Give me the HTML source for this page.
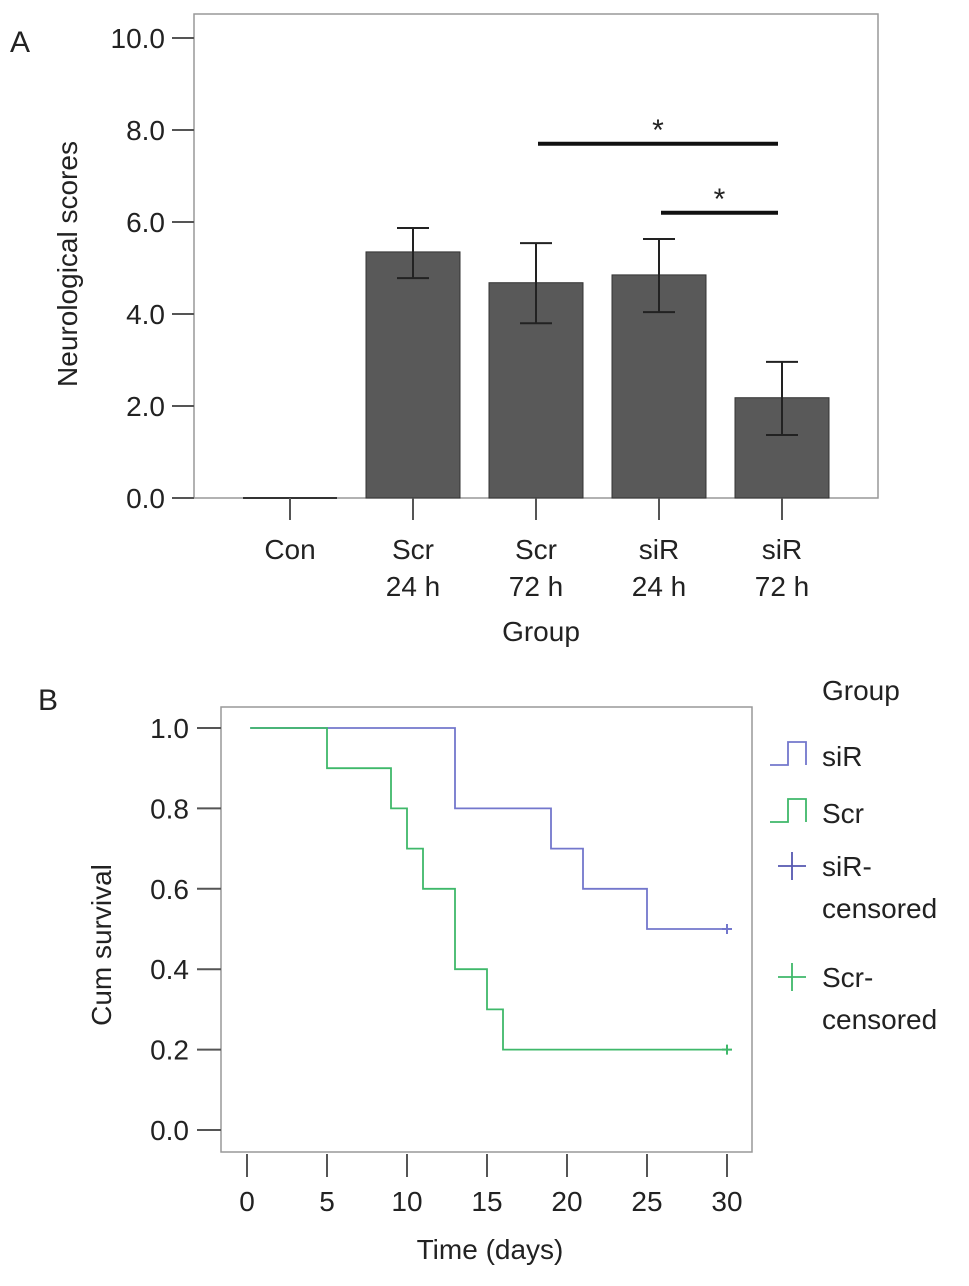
<!DOCTYPE html>
<html><head><meta charset="utf-8"><style>
body{margin:0;background:#fff}
svg text{font-family:"Liberation Sans",sans-serif;fill:#222}
</style></head><body>
<svg width="969" height="1281" viewBox="0 0 969 1281">
<g id="pa"></g>
<g id="pb"></g>
</svg>
<script>
const barCats=[["Con"],["Scr","24 h"],["Scr","72 h"],["siR","24 h"],["siR","72 h"]];
const barVals=[0,5.35,4.68,4.85,2.18];
const errHi=[0,5.87,5.54,5.63,2.96];
const errLo=[0,4.78,3.80,4.04,1.37];
const yTicksA=[0,2,4,6,8,10];
const sigPairs=[[2,4],[3,4]];
const sigLevels=[7.7,6.2];

const tVals=[0,5,10,15,20,25,30];
const survTicks=[0,0.2,0.4,0.6,0.8,1.0];
const siRTimes=[0.2,13,19,21,25,30];
const siRSurv=[1.0,0.8,0.7,0.6,0.5,0.5];
const scrTimes=[0.2,5,9,10,11,13,15,16,30];
const scrSurv=[1.0,0.9,0.8,0.7,0.6,0.4,0.3,0.2,0.2];

const NS="http://www.w3.org/2000/svg";
function mk(p,t,a,txt){const e=document.createElementNS(NS,t);for(const k in a)e.setAttribute(k,a[k]);if(txt!==undefined)e.textContent=txt;p.appendChild(e);return e;}
const A=document.getElementById('pa'),B=document.getElementById('pb');
const FS=28;
// Panel A
const yA=v=>498-v*46, xA=i=>290+i*123;
let e=mk(A,'text',{x:10,y:52,'font-size':30},'A');


e=mk(A,'rect',{x:194,y:14,width:684,height:484,fill:'none',stroke:'#999','stroke-width':1.5});


yTicksA.forEach(v=>{
 e=mk(A,'line',{x1:172,x2:194,y1:yA(v),y2:yA(v),stroke:'#555','stroke-width':2});
 
 
 e=mk(A,'text',{x:165,y:yA(v)+10,'font-size':FS,'text-anchor':'end'},v.toFixed(1));
 
 
});
e=mk(A,'text',{x:0,y:0,'font-size':FS,'text-anchor':'middle',transform:'translate(77,264) rotate(-90)'},'Neurological scores');


barVals.forEach((v,i)=>{
 const cx=xA(i);
 if(v>0){e=mk(A,'rect',{x:cx-47,y:yA(v),width:94,height:yA(0)-yA(v),fill:'#595959',stroke:'#333','stroke-width':1});}
 else{e=mk(A,'line',{x1:cx-47,x2:cx+47,y1:yA(0),y2:yA(0),stroke:'#333','stroke-width':2});}
 
 
 if(errHi[i]>errLo[i]){
  e=mk(A,'path',{d:`M${cx-16},${yA(errHi[i])}H${cx+16}M${cx},${yA(errHi[i])}V${yA(errLo[i])}M${cx-16},${yA(errLo[i])}H${cx+16}`,stroke:'#222','stroke-width':2,fill:'none'});
  
  
 }
 e=mk(A,'line',{x1:cx,x2:cx,y1:498,y2:520,stroke:'#555','stroke-width':2});
 
 
 barCats[i].forEach((s,j)=>{
  e=mk(A,'text',{x:cx,y:559+j*37,'font-size':FS,'text-anchor':'middle'},s);
  
  
 });
});
e=mk(A,'text',{x:541,y:641,'font-size':FS,'text-anchor':'middle'},'Group');


sigPairs.forEach((p,k)=>{
 const x1=xA(p[0])+2,x2=xA(p[1])-4,y=yA(sigLevels[k]);
 e=mk(A,'line',{x1:x1,x2:x2,y1:y,y2:y,stroke:'#111','stroke-width':4});
 
 
 e=mk(A,'text',{x:(x1+x2)/2,y:y-4,'font-size':30,'text-anchor':'middle','font-family':'Liberation Serif'},'*');
 
 
});
// Panel B
const xB=t=>247+t*16, yB=s=>1130-s*402;
e=mk(B,'text',{x:38,y:710,'font-size':30},'B');


e=mk(B,'rect',{x:221,y:707,width:531,height:445,fill:'none',stroke:'#999','stroke-width':1.5});


survTicks.forEach(v=>{
 e=mk(B,'line',{x1:197,x2:221,y1:yB(v),y2:yB(v),stroke:'#555','stroke-width':2});
 
 
 e=mk(B,'text',{x:189,y:yB(v)+10,'font-size':FS,'text-anchor':'end'},v.toFixed(1));
 
 
});
tVals.forEach(t=>{
 e=mk(B,'line',{x1:xB(t),x2:xB(t),y1:1154,y2:1177,stroke:'#555','stroke-width':2});
 
 
 e=mk(B,'text',{x:xB(t),y:1211,'font-size':FS,'text-anchor':'middle'},String(t));
 
 
});
e=mk(B,'text',{x:0,y:0,'font-size':FS,'text-anchor':'middle',transform:'translate(111,945) rotate(-90)'},'Cum survival');


e=mk(B,'text',{x:490,y:1259,'font-size':FS,'text-anchor':'middle'},'Time (days)');


function step(ts,ss,col,name){
 let d=`M${xB(ts[0])},${yB(ss[0])}`;
 for(let i=1;i<ts.length;i++){d+=`H${xB(ts[i])}V${yB(ss[i])}`;}
 let p=mk(B,'path',{d:d,fill:'none',stroke:col,'stroke-width':1.8});
 
 
 const x=xB(ts[ts.length-1]),y=yB(ss[ss.length-1]);
 p=mk(B,'path',{d:`M${x-5},${y}H${x+5}M${x},${y-5}V${y+5}`,stroke:col,'stroke-width':2});
 
 
}
step(siRTimes,siRSurv,'#7377cc','sir');
step(scrTimes,scrSurv,'#3fb86a','scr');
e=mk(B,'text',{x:822,y:700,'font-size':FS},'Group');


[['siR','#7377cc',756,'step'],['Scr','#3fb86a',813,'step']].forEach(l=>{
 e=mk(B,'path',{d:`M770,${l[2]+9}H788V${l[2]-14}H806V${l[2]+9}`,fill:'none',stroke:l[1],'stroke-width':1.8});
 
 
 e=mk(B,'text',{x:822,y:l[2]+10,'font-size':FS},l[0]);
 
 
});
[['siR','#5558b0',866],['Scr','#3fb86a',977]].forEach(l=>{
 e=mk(B,'path',{d:`M778,${l[2]}H806M792,${l[2]-14}V${l[2]+14}`,stroke:l[1],'stroke-width':1.8});
 
 
 e=mk(B,'text',{x:822,y:l[2]+10,'font-size':FS},l[0]+'-');
 
 
 e=mk(B,'text',{x:822,y:l[2]+52,'font-size':FS},'censored');
 
 
});
</script>
</body></html>
